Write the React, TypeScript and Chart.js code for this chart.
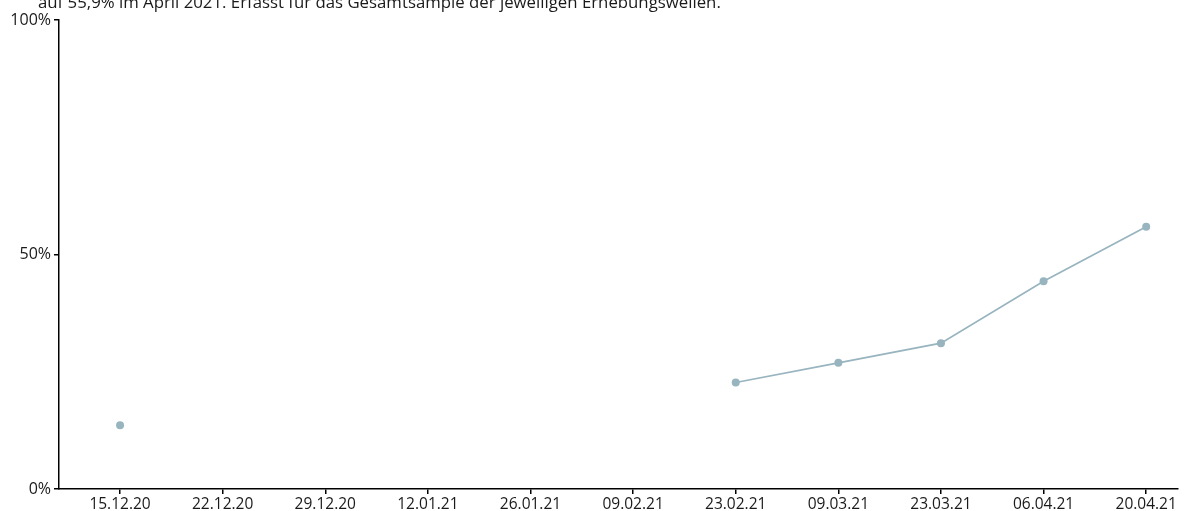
import React, { useEffect, useRef } from "react";
import { Chart, registerables } from "chart.js";

Chart.register(...registerables);

const categories = [
  "15.12.20", "22.12.20", "29.12.20", "12.01.21", "26.01.21", "09.02.21",
  "23.02.21", "09.03.21", "23.03.21", "06.04.21", "20.04.21",
];
const values: (number | null)[] = [13.6, null, null, null, null, null, 22.7, 26.9, 31.1, 44.3, 55.9];
const yTicks = [0, 50, 100];
const noteText = "auf 55,9% im April 2021. Erfasst für das Gesamtsample der jeweiligen Erhebungswellen.";

const FONT = "'Open Sans', sans-serif";
const LINE_COLOR = "#98b4bf";

export default function App() {
  const ref = useRef<HTMLCanvasElement | null>(null);

  useEffect(() => {
    document.body.style.margin = "0";
    const canvas = ref.current;
    if (!canvas) return;
    const chart = new Chart(canvas, {
      type: "line",
      data: {
        datasets: [
          {
            data: values.map((v, i) => ({ x: i, y: v })),
            borderColor: LINE_COLOR,
            backgroundColor: LINE_COLOR,
            borderWidth: 1.7,
            pointRadius: 4,
            pointBorderWidth: 0,
            pointHoverRadius: 4,
            spanGaps: false,
            tension: 0,
          },
        ],
      },
      options: {
        animation: false,
        responsive: false,
        maintainAspectRatio: false,
        layout: { padding: { left: 0, top: 20, right: 25, bottom: 0 } },
        plugins: { legend: { display: false }, tooltip: { enabled: false } },
        scales: {
          x: {
            type: "linear",
            min: -0.595,
            max: 10.31,
            afterBuildTicks: (scale: any) => {
              scale.ticks = categories.map((_, i) => ({ value: i }));
            },
            afterFit: (scale: any) => {
              scale.height = 22;
            },
            ticks: {
              autoSkip: false,
              maxRotation: 0,
              padding: 1,
              color: "#1a1a1a",
              font: { family: FONT, size: 15.5 },
              callback: (v: any) => categories[Math.round(Number(v))] ?? "",
            },
            grid: { drawOnChartArea: false, drawTicks: true, tickLength: 5, color: "#000", lineWidth: 1.5 },
            border: { color: "#000", width: 1.5 },
          },
          y: {
            type: "linear",
            min: 0,
            max: 100,
            afterBuildTicks: (scale: any) => {
              scale.ticks = yTicks.map((v) => ({ value: v }));
            },
            afterFit: (scale: any) => {
              scale.width = 59;
            },
            ticks: {
              padding: 3,
              color: "#1a1a1a",
              font: { family: FONT, size: 16 },
              callback: (v: any) => `${v}%`,
            },
            grid: { drawOnChartArea: false, drawTicks: true, tickLength: 5, color: "#000", lineWidth: 1.5 },
            border: { color: "#000", width: 1.5 },
          },
        },
      },
    } as any);
    return () => chart.destroy();
  }, []);

  return (
    <div style={{ position: "relative", width: 1203, height: 511, overflow: "hidden", background: "#fff" }}>
      <div
        style={{
          position: "absolute",
          left: 38,
          top: -8.5,
          fontFamily: FONT,
          fontSize: 16.8,
          lineHeight: "20px",
          color: "#1a1a1a",
          whiteSpace: "nowrap",
        }}
      >
        {noteText}
      </div>
      <canvas ref={ref} width={1203} height={511} style={{ display: "block", width: 1203, height: 511 }} />
    </div>
  );
}
